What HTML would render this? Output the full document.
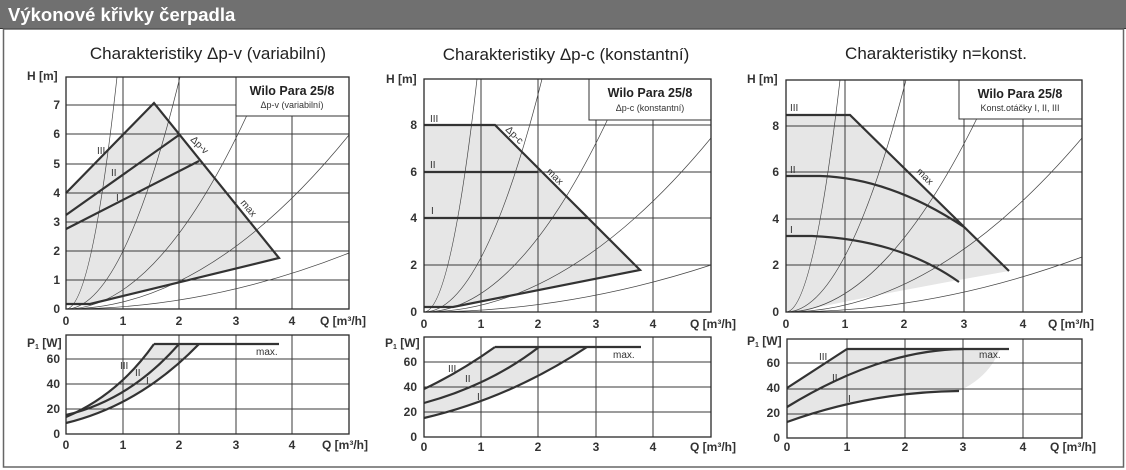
<!DOCTYPE html>
<html><head><meta charset="utf-8"><style>
html,body{margin:0;padding:0;background:#fff;}
svg{display:block;font-family:"Liberation Sans",Arial,sans-serif;}
.t{font-size:12px;font-weight:bold;fill:#333;}
.g{stroke:#3a3a3a;stroke-width:1;fill:none;}
.sc{stroke:#444;stroke-width:0.7;fill:none;}
.th{stroke:#333;stroke-width:2.2;fill:none;}
.sh{fill:#e6e6e6;stroke:none;}
.bx{fill:none;stroke:#2a2a2a;stroke-width:1.3;}
.rl{font-size:10px;fill:#333;}
.ti{font-size:17px;fill:#222;}
</style></head><body>
<svg width="1126" height="470" viewBox="0 0 1126 470">
<rect x="0" y="0" width="1126" height="470" fill="#fff"/>
<rect x="0" y="0" width="1126" height="28" fill="#707070"/>
<line x1="0" y1="28.5" x2="1126" y2="28.5" stroke="#333" stroke-width="1"/>
<text x="8" y="21" font-size="18.5" font-weight="bold" fill="#fff">Výkonové křivky čerpadla</text>
<rect x="3.5" y="29" width="1120" height="438" fill="none" stroke="#666" stroke-width="1.5"/>

<!-- titles -->
<text class="ti" x="208" y="59" text-anchor="middle">Charakteristiky Δp-v (variabilní)</text>
<text class="ti" x="566" y="60" text-anchor="middle">Charakteristiky Δp-c (konstantní)</text>
<text class="ti" x="936" y="59" text-anchor="middle">Charakteristiky n=konst.</text>

<!-- ===== CHART 1 TOP ===== -->
<polygon class="sh" points="66,193 154,103 279,258 90,304 66,304"/>
<g class="g">
<line x1="123" y1="77" x2="123" y2="309"/><line x1="179" y1="77" x2="179" y2="309"/><line x1="236" y1="77" x2="236" y2="309"/><line x1="292" y1="77" x2="292" y2="309"/>
<line x1="66" y1="280" x2="349" y2="280"/><line x1="66" y1="251" x2="349" y2="251"/><line x1="66" y1="222" x2="349" y2="222"/><line x1="66" y1="193" x2="349" y2="193"/><line x1="66" y1="164" x2="349" y2="164"/><line x1="66" y1="134" x2="349" y2="134"/><line x1="66" y1="105" x2="349" y2="105"/>
</g>
<g class="sc">
<path d="M66,309 Q91.5,309 117,77"/><path d="M66,309 Q123,309 180,77"/><path d="M66,309 Q165,309 264,77"/><path d="M66,309 Q207.5,309 349,135"/><path d="M66,309 Q207.5,309 349,253"/>
</g>
<g class="th" stroke-width="1.8">
<polyline points="66,193 154,103 279,258 90,304 66,304"/>
<line x1="66" y1="215" x2="179" y2="135"/>
<line x1="66" y1="229" x2="199" y2="161"/>
</g>
<rect x="236" y="77" width="113" height="39" fill="#fff" stroke="#333" stroke-width="1"/>
<text x="292" y="95" font-size="12.5" font-weight="bold" fill="#222" text-anchor="middle">Wilo Para 25/8</text>
<text x="292" y="108" font-size="9" fill="#333" text-anchor="middle">Δp-v (variabilní)</text>
<rect class="bx" x="66" y="77" width="283" height="232"/>
<text class="rl" x="97" y="154">III</text><text class="rl" x="111" y="176">II</text><text class="rl" x="116" y="201">I</text>
<text class="rl" font-size="11" transform="translate(190,140) rotate(45)">Δp-v</text>
<text class="rl" font-size="11" transform="translate(240,203) rotate(50)">max</text>
<g class="t" text-anchor="end">
<text x="60" y="313">0</text><text x="60" y="284">1</text><text x="60" y="255">2</text><text x="60" y="226">3</text><text x="60" y="197">4</text><text x="60" y="168">5</text><text x="60" y="138">6</text><text x="60" y="109">7</text>
</g>
<text class="t" x="27" y="80">H [m]</text>
<g class="t" text-anchor="middle"><text x="66" y="325">0</text><text x="123" y="325">1</text><text x="179" y="325">2</text><text x="236" y="325">3</text><text x="292" y="325">4</text></g>
<text class="t" x="320" y="325">Q [m³/h]</text>

<!-- ===== CHART 1 BOTTOM ===== -->
<path class="sh" d="M66,417 Q118,395 154,344 L199,344 Q140,405 66,423 Z"/>
<g class="g">
<line x1="123" y1="335" x2="123" y2="434"/><line x1="179" y1="335" x2="179" y2="434"/><line x1="236" y1="335" x2="236" y2="434"/><line x1="292" y1="335" x2="292" y2="434"/>
<line x1="66" y1="359" x2="349" y2="359"/><line x1="66" y1="384" x2="349" y2="384"/><line x1="66" y1="409" x2="349" y2="409"/>
</g>
<g class="th" stroke-width="1.8">
<path d="M66,417 Q118,395 154,344"/><path d="M66,415 Q130,400 179,344"/><path d="M66,423 Q140,405 199,344"/>
<line x1="154" y1="344" x2="279" y2="344"/>
</g>
<rect class="bx" x="66" y="335" width="283" height="99"/>
<text class="rl" x="120" y="369">III</text><text class="rl" x="135" y="376">II</text><text class="rl" x="146" y="384">I</text>
<text class="rl" x="256" y="355">max.</text>
<g class="t" text-anchor="end"><text x="60" y="438">0</text><text x="60" y="413">20</text><text x="60" y="388">40</text><text x="60" y="363">60</text></g>
<text class="t" x="27" y="347">P<tspan font-size="7" dy="2">1</tspan><tspan dy="-2"> [W]</tspan></text>
<g class="t" text-anchor="middle"><text x="66" y="449">0</text><text x="123" y="449">1</text><text x="179" y="449">2</text><text x="236" y="449">3</text><text x="292" y="449">4</text></g>
<text class="t" x="322" y="449">Q [m³/h]</text>

<!-- ===== CHART 2 TOP ===== -->
<polygon class="sh" points="424,125 495,125 640,270 453,307 424,307"/>
<g class="g">
<line x1="481" y1="79" x2="481" y2="312"/><line x1="538" y1="79" x2="538" y2="312"/><line x1="596" y1="79" x2="596" y2="312"/><line x1="653" y1="79" x2="653" y2="312"/>
<line x1="424" y1="265" x2="711" y2="265"/><line x1="424" y1="218" x2="711" y2="218"/><line x1="424" y1="172" x2="711" y2="172"/><line x1="424" y1="125" x2="711" y2="125"/>
</g>
<g class="sc">
<path d="M424,312 Q450.5,312 477,79"/><path d="M424,312 Q483,312 542,79"/><path d="M424,312 Q525,312 626,79"/><path d="M424,312 Q567.5,312 711,138"/><path d="M424,312 Q567.5,312 711,265"/>
</g>
<g class="th">
<polyline points="424,125 495,125 640,270 453,307 424,307"/>
<line x1="424" y1="172" x2="538" y2="172"/>
<line x1="424" y1="218" x2="588" y2="218"/>
</g>
<rect x="589" y="79" width="122" height="41" fill="#fff" stroke="#333" stroke-width="1"/>
<text x="650" y="97" font-size="12.5" font-weight="bold" fill="#222" text-anchor="middle">Wilo Para 25/8</text>
<text x="650" y="111" font-size="9" fill="#333" text-anchor="middle">Δp-c (konstantní)</text>
<rect class="bx" x="424" y="79" width="287" height="233"/>
<text class="rl" x="430" y="122">III</text><text class="rl" x="430" y="168">II</text><text class="rl" x="431" y="214">I</text>
<text class="rl" font-size="11" transform="translate(505,130) rotate(45)">Δp-c</text>
<text class="rl" font-size="11" transform="translate(546,172) rotate(45)">max</text>
<g class="t" text-anchor="end"><text x="417" y="316">0</text><text x="417" y="269">2</text><text x="417" y="222">4</text><text x="417" y="176">6</text><text x="417" y="129">8</text></g>
<text class="t" x="386" y="83">H [m]</text>
<g class="t" text-anchor="middle"><text x="424" y="328">0</text><text x="481" y="328">1</text><text x="538" y="328">2</text><text x="596" y="328">3</text><text x="653" y="328">4</text></g>
<text class="t" x="690" y="328">Q [m³/h]</text>

<!-- ===== CHART 2 BOTTOM ===== -->
<path class="sh" d="M424,389 Q460,372 495,347 L587,347 Q510,398 424,418 Z"/>
<g class="g">
<line x1="481" y1="337" x2="481" y2="437"/><line x1="538" y1="337" x2="538" y2="437"/><line x1="596" y1="337" x2="596" y2="437"/><line x1="653" y1="337" x2="653" y2="437"/>
<line x1="424" y1="362" x2="711" y2="362"/><line x1="424" y1="387" x2="711" y2="387"/><line x1="424" y1="412" x2="711" y2="412"/>
</g>
<g class="th">
<path d="M424,389 Q460,372 495,347"/><path d="M424,403 Q490,385 539,347"/><path d="M424,418 Q510,398 587,347"/>
<line x1="495" y1="347" x2="641" y2="347"/>
</g>
<rect class="bx" x="424" y="337" width="287" height="100"/>
<text class="rl" x="448" y="372">III</text><text class="rl" x="465" y="382">II</text><text class="rl" x="477" y="400">I</text>
<text class="rl" x="613" y="358">max.</text>
<g class="t" text-anchor="end"><text x="417" y="441">0</text><text x="417" y="416">20</text><text x="417" y="391">40</text><text x="417" y="366">60</text></g>
<text class="t" x="385" y="347">P<tspan font-size="7" dy="2">1</tspan><tspan dy="-2"> [W]</tspan></text>
<g class="t" text-anchor="middle"><text x="424" y="451">0</text><text x="481" y="451">1</text><text x="538" y="451">2</text><text x="596" y="451">3</text><text x="653" y="451">4</text></g>
<text class="t" x="690" y="451">Q [m³/h]</text>

<!-- ===== CHART 3 TOP ===== -->
<path class="sh" d="M786,115 L850,115 L1009,271 Q900,290 795,312 L786,312 Z"/>
<g class="g">
<line x1="845" y1="80" x2="845" y2="312"/><line x1="904" y1="80" x2="904" y2="312"/><line x1="964" y1="80" x2="964" y2="312"/><line x1="1023" y1="80" x2="1023" y2="312"/>
<line x1="786" y1="265" x2="1082" y2="265"/><line x1="786" y1="219" x2="1082" y2="219"/><line x1="786" y1="172" x2="1082" y2="172"/><line x1="786" y1="126" x2="1082" y2="126"/>
</g>
<g class="sc">
<path d="M786,312 Q813,312 840,80"/><path d="M786,312 Q846,312 906,80"/><path d="M786,312 Q890.5,312 995,80"/><path d="M786,312 Q934,312 1082,138"/><path d="M786,312 Q934,312 1082,257"/>
</g>
<g class="th">
<polyline points="786,115 850,115 1009,271"/>
<path d="M786,176 L820,176 Q890,178 964,227"/>
<path d="M786,236 L812,236 Q900,240 959,282"/>
</g>
<rect x="959" y="80" width="123" height="39" fill="#fff" stroke="#333" stroke-width="1"/>
<text x="1020" y="98" font-size="12.5" font-weight="bold" fill="#222" text-anchor="middle">Wilo Para 25/8</text>
<text x="1020" y="111" font-size="9" fill="#333" text-anchor="middle">Konst.otáčky  I, II, III</text>
<rect class="bx" x="786" y="80" width="296" height="232"/>
<text class="rl" x="790" y="111">III</text><text class="rl" x="790" y="173">II</text><text class="rl" x="790" y="233">I</text>
<text class="rl" font-size="11" transform="translate(916,172) rotate(45)">max</text>
<g class="t" text-anchor="end"><text x="779" y="316">0</text><text x="779" y="269">2</text><text x="779" y="223">4</text><text x="779" y="176">6</text><text x="779" y="130">8</text></g>
<text class="t" x="747" y="83">H [m]</text>
<g class="t" text-anchor="middle"><text x="786" y="328">0</text><text x="845" y="328">1</text><text x="904" y="328">2</text><text x="964" y="328">3</text><text x="1023" y="328">4</text></g>
<text class="t" x="1048" y="328">Q [m³/h]</text>

<!-- ===== CHART 3 BOTTOM ===== -->
<path class="sh" d="M787,388 L847,349 L1000,349 Q990,375 963,389 L959,391 Q870,392 787,422 Z"/>
<g class="g">
<line x1="847" y1="339" x2="847" y2="438"/><line x1="905" y1="339" x2="905" y2="438"/><line x1="963" y1="339" x2="963" y2="438"/><line x1="1023" y1="339" x2="1023" y2="438"/>
<line x1="787" y1="363" x2="1082" y2="363"/><line x1="787" y1="389" x2="1082" y2="389"/><line x1="787" y1="414" x2="1082" y2="414"/>
</g>
<g class="th">
<line x1="787" y1="388" x2="847" y2="349"/>
<path d="M787,407 Q880,350 963,349"/>
<path d="M787,422 Q870,392 959,391"/>
<line x1="847" y1="349" x2="1009" y2="349"/>
</g>
<rect class="bx" x="787" y="339" width="295" height="99"/>
<text class="rl" font-size="12" x="819" y="360">III</text><text class="rl" font-size="12" x="832" y="381">II</text><text class="rl" font-size="12" x="848" y="402">I</text>
<text class="rl" x="979" y="358">max.</text>
<g class="t" text-anchor="end"><text x="780" y="442">0</text><text x="780" y="417">20</text><text x="780" y="392">40</text><text x="780" y="367">60</text></g>
<text class="t" x="747" y="345">P<tspan font-size="7" dy="2">1</tspan><tspan dy="-2"> [W]</tspan></text>
<g class="t" text-anchor="middle"><text x="787" y="451">0</text><text x="847" y="451">1</text><text x="905" y="451">2</text><text x="963" y="451">3</text><text x="1023" y="451">4</text></g>
<text class="t" x="1050" y="451">Q [m³/h]</text>
</svg>
</body></html>
